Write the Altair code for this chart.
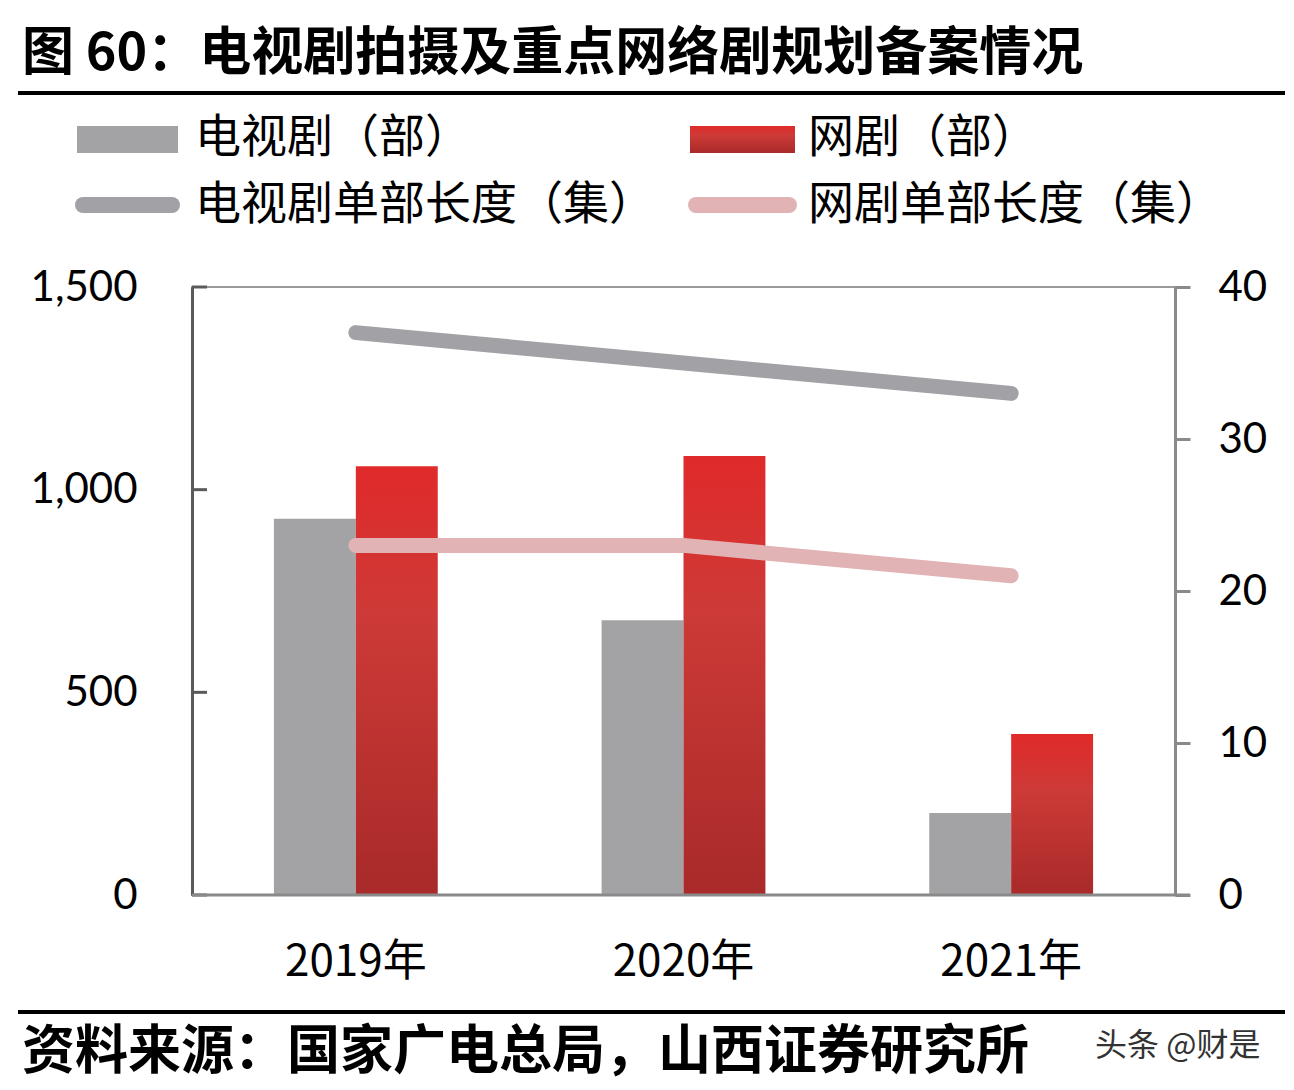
import altair as alt
import pandas as pd

# ---- data ----
years = ["2019年", "2020年", "2021年"]
tv_count = [928, 678, 202]          # 电视剧（部）
web_count = [1058, 1083, 397]       # 网剧（部）
tv_len = [37, 35, 33]               # 电视剧单部长度（集）
web_len = [23, 23, 21]              # 网剧单部长度（集）

series_bar = ["电视剧（部）", "网剧（部）"]
series_line = ["电视剧单部长度（集）", "网剧单部长度（集）"]
left_ticks = [0, 500, 1000, 1500]
right_ticks = [0, 10, 20, 30, 40]

title_text = "图 60：电视剧拍摄及重点网络剧规划备案情况"
source_text = "资料来源：国家广电总局，山西证券研究所"
watermark_text = "头条 @财是"

CJK = "Noto Sans CJK SC"
W, H = 983, 608

bars_df = pd.DataFrame({
    "year": years * 2,
    "series": [series_bar[0]] * 3 + [series_bar[1]] * 3,
    "value": tv_count + web_count,
})
lines_df = pd.DataFrame({
    "year": years * 2,
    "series": [series_line[0]] * 3 + [series_line[1]] * 3,
    "value": tv_len + web_len,
})

xscale = alt.Scale(domain=years, paddingInner=0.5, paddingOuter=0.25)
xaxis = alt.Axis(title=None, labelFont=CJK, labelFontSize=44, labelColor="#000",
                 labelPadding=45, ticks=False, domain=False, labelAngle=0)
xoff = alt.XOffset("series:N", scale=alt.Scale(domain=series_bar, paddingInner=0, paddingOuter=0))
yleft = alt.Scale(domain=[0, 1500], nice=False)
yright = alt.Scale(domain=[0, 40], nice=False)

red_grad = alt.LinearGradient(
    gradient="linear",
    stops=[alt.GradientStop(color="#e02a2a", offset=0),
           alt.GradientStop(color="#cd3a37", offset=0.35),
           alt.GradientStop(color="#a82a29", offset=1)],
    x1=0, x2=0, y1=0, y2=1,
)

gray_bars = alt.Chart(bars_df[bars_df.series == series_bar[0]]).mark_bar(color="#a3a3a5").encode(
    x=alt.X("year:N", scale=xscale, axis=xaxis, sort=years),
    xOffset=xoff,
    y=alt.Y("value:Q", scale=yleft,
            axis=alt.Axis(title=None, values=left_ticks, format=",.0f", orient="left",
                          labelFont="Lato", labelFontSize=42, labelColor="#000",
                          labelPadding=55, tickSize=0, grid=False,
                          domainColor="#5a5a5a", domainWidth=3)),
)
red_bars = alt.Chart(bars_df[bars_df.series == series_bar[1]]).mark_bar(color=red_grad).encode(
    x=alt.X("year:N", scale=xscale, sort=years),
    xOffset=xoff,
    y=alt.Y("value:Q", scale=yleft),
)
left_tick_marks = alt.Chart(pd.DataFrame({"v": left_ticks})).mark_rule(
    color="#5a5a5a", strokeWidth=3).encode(
    x=alt.value(0), x2=alt.value(15),
    y=alt.Y("v:Q", scale=yleft),
)
bars_group = alt.layer(gray_bars, red_bars, left_tick_marks)

line_tv = alt.Chart(lines_df[lines_df.series == series_line[0]]).mark_line(
    color="#a2a2a6", strokeWidth=15, strokeCap="round", strokeJoin="round").encode(
    x=alt.X("year:N", scale=xscale, sort=years),
    y=alt.Y("value:Q", scale=yright,
            axis=alt.Axis(title=None, values=right_ticks, orient="right",
                          labelFont="Lato", labelFontSize=42, labelColor="#000",
                          labelPadding=28, tickSize=15, tickColor="#8a8a8a", tickWidth=3,
                          grid=False, domainColor="#8a8a8a", domainWidth=3)),
)
line_web = alt.Chart(lines_df[lines_df.series == series_line[1]]).mark_line(
    color="#e2b3b5", strokeWidth=15, strokeCap="round", strokeJoin="round").encode(
    x=alt.X("year:N", scale=xscale, sort=years),
    y=alt.Y("value:Q", scale=yright),
)
lines_group = alt.layer(line_tv, line_web)

# bottom axis line (extends past the right axis)
base_line = alt.Chart(pd.DataFrame({"a": [0]})).mark_rule(color="#8a8a8a", strokeWidth=3).encode(
    x=alt.value(0), x2=alt.value(W + 15), y=alt.value(H))

def text_layer(txt, x, y, size, weight="normal", color="#000", font=CJK):
    return alt.Chart(pd.DataFrame({"t": [txt]})).mark_text(
        font=font, fontSize=size, fontWeight=weight, color=color,
        align="left", baseline="middle").encode(
        x=alt.value(x), y=alt.value(y), text="t:N")

def hrule(y, x1, x2, color="#000", width=4, cap="butt"):
    return alt.Chart(pd.DataFrame({"a": [0]})).mark_rule(
        color=color, strokeWidth=width, strokeCap=cap).encode(
        x=alt.value(x1), x2=alt.value(x2), y=alt.value(y))

def rect(x1, x2, y1, y2, color):
    return alt.Chart(pd.DataFrame({"a": [0]})).mark_rect(color=color).encode(
        x=alt.value(x1), x2=alt.value(x2), y=alt.value(y1), y2=alt.value(y2))

title_l = text_layer(title_text, -170, -233, 52, weight="bold")
title_rule = hrule(-194, -174, 1093)
foot_rule = hrule(725, -174, 1093)
foot_l = text_layer(source_text, -170, 766, 53, weight="bold")
wm_l = text_layer(watermark_text, 903, 759, 32, color="#333333")

leg = [
    rect(-115, -14, -161, -134, "#a3a3a5"),
    text_layer(series_bar[0], 3, -149, 46),
    rect(498, 603, -161, -134, red_grad),
    text_layer(series_bar[1], 616, -149, 46),
    hrule(-82, -109, -20, color="#a2a2a6", width=16, cap="round"),
    text_layer(series_line[0], 3, -82, 46),
    hrule(-82, 504, 597, color="#e2b3b5", width=16, cap="round"),
    text_layer(series_line[1], 616, -82, 46),
]

chart = alt.layer(
    bars_group, lines_group, base_line,
    title_l, title_rule, foot_rule, foot_l, wm_l, *leg
).resolve_scale(y="independent").properties(
    width=W, height=H,
    autosize=alt.AutoSizeParams(type="none"),
    padding={"left": 192, "top": 287, "right": 119, "bottom": 195},
    background="#ffffff",
).configure_view(stroke="#9a9a9a", strokeWidth=2)

chart.save("out.html", embed_options={"renderer": "svg", "actions": False})
